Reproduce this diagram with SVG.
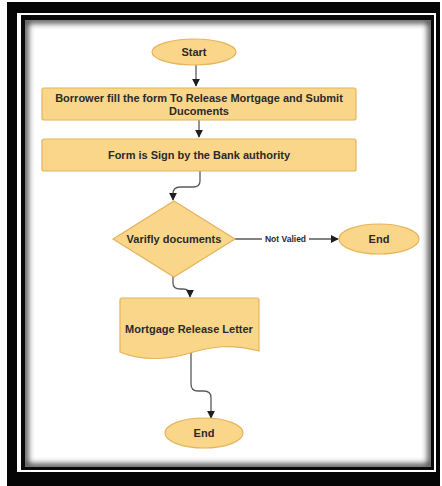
<svg xmlns="http://www.w3.org/2000/svg" width="442" height="486" viewBox="0 0 442 486">
  <defs>
    <style>
      .shape { fill: #fad68b; stroke: #e4b35a; stroke-width: 1.2; }
      .label { font-family: "Liberation Sans", Arial, sans-serif; font-weight: bold; font-size: 11px; fill: #2a2a2a; text-anchor: middle; }
      .small { font-size: 8.5px; }
      .wire { fill: none; stroke: #5a5a5a; stroke-width: 1.3; }
    </style>
    <marker id="arrow" viewBox="0 0 10 10" refX="9" refY="5" markerWidth="6" markerHeight="6" orient="auto">
      <path d="M0,0 L10,5 L0,10 z" fill="#1e1e1e"/>
    </marker>
    <filter id="inset" x="-5%" y="-5%" width="110%" height="110%">
      <feGaussianBlur stdDeviation="3"/>
    </filter>
    <clipPath id="page">
      <rect x="25" y="20" width="406" height="447"/>
    </clipPath>
  </defs>

  <!-- picture frame -->
  <g id="frame">
    <rect x="0" y="0" width="442" height="486" fill="#ffffff"/>
    <rect x="7" y="2" width="433" height="484" fill="#050505"/>
    <rect x="17" y="13" width="419" height="459" fill="#ffffff"/>
    <rect x="21" y="15" width="413" height="455" fill="#0a0a0a"/>
    <rect x="25" y="20" width="406" height="447" fill="#ffffff"/>
    <g clip-path="url(#page)">
      <rect x="25" y="20" width="406" height="447" fill="none" stroke="#000000" stroke-width="6" filter="url(#inset)" opacity="0.8"/>
    </g>
  </g>

  <!-- connectors -->
  <g id="connectors">
    <path class="wire" d="M196,65 L196,86" marker-end="url(#arrow)"/>
    <path class="wire" d="M199,120 L199,137" marker-end="url(#arrow)"/>
    <path class="wire" d="M200,171 L200,181 Q200,187 193,187 L180,187 Q173,187 173,194 L173,200" marker-end="url(#arrow)"/>
    <path class="wire" d="M235,239 L262,239 M309,239 L338,239" marker-end="url(#arrow)"/>
    <text class="label small" x="285.5" y="242">Not Valied</text>
    <path class="wire" d="M173,276 L173,283 Q173,289 180,289 L183,289 Q190,289 190,295 L190,297" marker-end="url(#arrow)"/>
    <path class="wire" d="M191,353 L191,384 Q191,391 198,391 L204,391 Q211,391 211,398 L211,418" marker-end="url(#arrow)"/>
  </g>

  <g id="start">
    <ellipse class="shape" cx="194" cy="52" rx="42" ry="13"/>
    <text class="label" x="194" y="56">Start</text>
  </g>

  <g id="fill-form">
    <rect class="shape" x="42" y="88" width="314" height="32" rx="2"/>
    <text class="label" x="199" y="101.5">Borrower fill the form To Release Mortgage and Submit</text>
    <text class="label" x="199" y="115">Ducoments</text>
  </g>

  <g id="sign-form">
    <rect class="shape" x="42" y="139" width="314" height="32" rx="2"/>
    <text class="label" x="199" y="158.5">Form is Sign by the Bank authority</text>
  </g>

  <g id="verify">
    <path class="shape" d="M174,201 L235,239 L174,277 L113,239 Z"/>
    <text class="label" x="174" y="243">Varifly documents</text>
  </g>

  <g id="end-rejected">
    <ellipse class="shape" cx="379" cy="239" rx="40" ry="15"/>
    <text class="label" x="379" y="243">End</text>
  </g>

  <g id="release-letter">
    <path class="shape" d="M120,300 Q120,298 122,298 L257,298 Q259,298 259,300 L259,351 C232,344 212,346 190,353 C168,360 140,361 120,352 Z"/>
    <text class="label" x="189" y="332.5">Mortgage Release Letter</text>
  </g>

  <g id="end">
    <ellipse class="shape" cx="204" cy="433" rx="39" ry="15"/>
    <text class="label" x="204" y="437">End</text>
  </g>
</svg>
